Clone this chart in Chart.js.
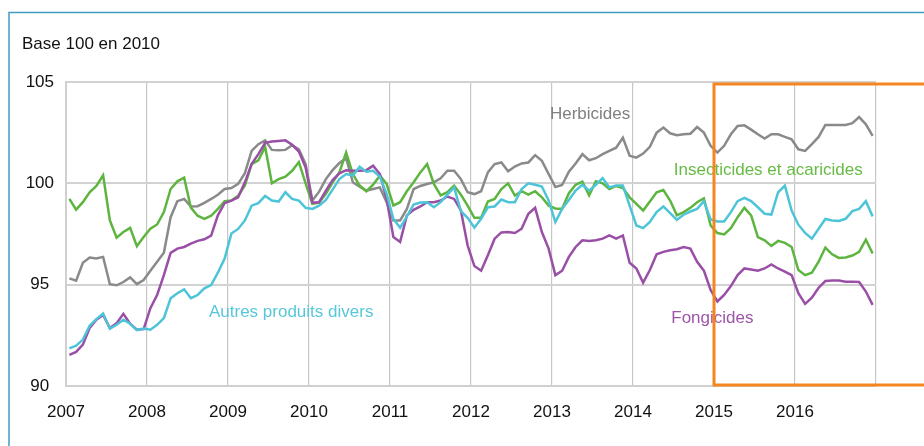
<!DOCTYPE html>
<html>
<head>
<meta charset="utf-8">
<script src="https://cdn.jsdelivr.net/npm/chart.js@4/dist/chart.umd.min.js"></script>
<style>
  html, body { margin: 0; padding: 0; background: #fff; }
  #wrap { position: relative; width: 924px; height: 446px; overflow: hidden; }
  canvas { display: block; }
</style>
</head>
<body>
<div id="wrap"><canvas id="c" width="924" height="446"></canvas></div>
<script>
// ---- Data (monthly, Jan 2007 - Dec 2016) ----
const startYear = 2007;
const years = [2007, 2008, 2009, 2010, 2011, 2012, 2013, 2014, 2015, 2016];
const yTicks = [90, 95, 100, 105];
const unitLabel = 'Base 100 en 2010';

const herbicides = [
  95.31, 95.2, 96.08, 96.34, 96.29, 96.37, 95.02, 94.97, 95.13, 95.36, 95.03, 95.23,
  95.69, 96.13, 96.57, 98.33, 99.12, 99.23, 98.86, 98.87, 99.04, 99.23, 99.44, 99.72,
  99.77, 99.97, 100.5, 101.6, 101.93, 102.12, 101.65, 101.63, 101.65, 101.88, 101.68, 100.95,
  99.15, 99.59, 100.21, 100.65, 101.0, 101.24, 100.05, 99.84, 99.64, 99.72, 99.8, 99.07,
  98.17, 98.17, 98.74, 99.72, 99.87, 99.97, 100.05, 100.25, 100.62, 100.62, 100.21, 99.56,
  99.47, 99.61, 100.54, 100.95, 101.03, 100.59, 100.83, 100.98, 101.03, 101.39, 101.11, 100.46,
  99.82, 99.92, 100.57, 100.98, 101.44, 101.14, 101.24, 101.44, 101.6, 101.76, 102.25, 101.36,
  101.27, 101.47, 101.8, 102.5, 102.75, 102.47, 102.37, 102.42, 102.45, 102.78, 102.5, 101.85,
  101.52, 101.85, 102.42, 102.83, 102.86, 102.65, 102.42, 102.21, 102.42, 102.42, 102.29, 102.17,
  101.68, 101.6, 101.93, 102.29, 102.88, 102.88, 102.88, 102.88, 102.97, 103.27, 102.91, 102.34
];
const insecticides = [
  99.23, 98.7, 99.07, 99.56, 99.87, 100.4, 98.17, 97.32, 97.6, 97.8, 96.9, 97.35,
  97.76, 97.97, 98.58, 99.72, 100.1, 100.28, 98.8, 98.4, 98.25, 98.4, 98.74, 99.12,
  99.15, 99.38, 99.9, 100.95, 101.14, 101.8, 100.0, 100.21, 100.33, 100.62, 101.05, 100.0,
  98.99, 99.05, 99.48, 100.05, 100.54, 101.52, 100.46, 99.89, 99.61, 99.93, 100.38, 99.97,
  98.91, 99.07, 99.61, 100.05, 100.54, 100.95, 99.97, 99.4, 99.56, 99.89, 99.44, 98.9,
  98.3, 98.3, 99.1, 99.23, 99.72, 100.0, 99.4, 99.61, 99.44, 99.61, 99.31, 98.9,
  98.76, 98.74, 99.51, 99.93, 100.08, 99.4, 100.1, 100.0, 99.72, 99.87, 99.77, 99.31,
  98.99, 98.66, 99.1, 99.56, 99.67, 99.15, 98.42, 98.58, 98.79, 99.07, 99.26, 97.92,
  97.55, 97.48, 97.79, 98.33, 98.79, 98.42, 97.35, 97.19, 96.91, 97.16, 97.06, 96.86,
  95.72, 95.47, 95.59, 96.13, 96.83, 96.5, 96.32, 96.34, 96.44, 96.62, 97.22, 96.54
];
const fongicides = [
  91.54, 91.68, 92.04, 92.86, 93.27, 93.51, 92.86, 93.1, 93.56, 93.07, 92.78, 92.81,
  93.84, 94.49, 95.47, 96.57, 96.78, 96.86, 97.03, 97.16, 97.24, 97.42, 98.42, 99.02,
  99.15, 99.31, 100.05, 100.95, 101.44, 102.0, 102.06, 102.09, 102.12, 101.9, 101.57, 100.78,
  99.05, 99.07, 99.64, 100.16, 100.49, 100.65, 100.62, 100.62, 100.65, 100.87, 100.46, 99.23,
  97.35, 97.11, 98.42, 98.69, 98.86, 99.07, 99.07, 99.15, 99.35, 99.23, 98.66, 96.94,
  95.92, 95.69, 96.45, 97.27, 97.58, 97.6, 97.55, 97.76, 98.5, 98.79, 97.6, 96.78,
  95.47, 95.69, 96.37, 96.86, 97.19, 97.16, 97.19, 97.27, 97.43, 97.27, 97.43, 96.08,
  95.8, 95.1, 95.72, 96.5, 96.62, 96.7, 96.75, 96.86, 96.78, 96.13, 95.69, 94.74,
  94.17, 94.49, 94.93, 95.47, 95.8, 95.75, 95.69, 95.8, 96.0, 95.8, 95.64, 95.47,
  94.58, 94.05, 94.36, 94.85, 95.18, 95.2, 95.2, 95.15, 95.15, 95.13, 94.66, 94.0
];
const autres = [
  91.86, 91.99, 92.29, 92.97, 93.3, 93.58, 92.83, 93.02, 93.27, 93.07, 92.76, 92.84,
  92.78, 93.02, 93.35, 94.33, 94.58, 94.77, 94.33, 94.49, 94.82, 94.98, 95.59, 96.29,
  97.52, 97.75, 98.17, 98.9, 99.02, 99.38, 99.15, 99.1, 99.56, 99.23, 99.15, 98.79,
  98.74, 98.9, 99.18, 99.69, 100.21, 100.46, 100.38, 100.82, 100.57, 100.62, 100.33, 99.48,
  98.25, 97.81, 98.37, 98.95, 99.05, 99.07, 98.82, 99.07, 99.44, 99.8, 98.63, 98.3,
  97.81, 98.25, 98.82, 98.86, 99.2, 99.07, 99.07, 99.72, 100.0, 99.93, 99.84, 99.15,
  98.09, 98.74, 99.18, 99.64, 99.93, 99.64, 99.93, 100.26, 99.8, 99.89, 99.89, 98.9,
  97.92, 97.79, 98.09, 98.58, 98.86, 98.53, 98.2, 98.45, 98.61, 98.74, 99.12, 98.22,
  98.12, 98.12, 98.58, 99.12, 99.28, 99.12, 98.82, 98.5, 98.46, 99.56, 99.89, 98.66,
  97.96, 97.55, 97.27, 97.76, 98.24, 98.17, 98.14, 98.25, 98.63, 98.74, 99.12, 98.37
];

// month -> decimal year (middle of the month)
const toPoints = (vals) => vals.map((v, i) => ({ x: startYear + (i + 0.5) / 12, y: v }));

// ---- Styles ----
const colors = {
  herb: '#8a8a8a',
  insect: '#5db53f',
  fong: '#9a4fa6',
  autres: '#4ec4d8',
  orange: '#f3861f',
  grid: '#d2d2d2',
  frame: '#3f9dc0'
};
const FONT = "'Liberation Sans', Arial, sans-serif";

const annotations = [
  { text: 'Herbicides', color: '#808080', x: 2013.47, y: 103.4 },
  { text: 'Insecticides et acaricides', color: '#66bb44', x: 2015.67, y: 100.64 },
  { text: 'Autres produits divers', color: '#58c7da', x: 2009.78, y: 93.64 },
  { text: 'Fongicides', color: '#9d56aa', x: 2014.98, y: 93.35 }
];

const overlay = {
  id: 'overlay',
  beforeDraw(chart) {
    const ctx = chart.ctx;
    ctx.save();
    ctx.fillStyle = '#fff';
    ctx.fillRect(0, 0, chart.width, chart.height);
    ctx.strokeStyle = colors.frame;
    ctx.lineWidth = 1.5;
    ctx.beginPath();
    ctx.moveTo(9, chart.height + 2);
    ctx.lineTo(9, 12.5);
    ctx.lineTo(chart.width + 2, 12.5);
    ctx.stroke();
    ctx.fillStyle = '#111';
    ctx.font = '17px ' + FONT;
    ctx.textAlign = 'left';
    ctx.textBaseline = 'middle';
    ctx.fillText(unitLabel, 22, 44);
    ctx.restore();
  },
  afterDatasetsDraw(chart) {
    const ctx = chart.ctx;
    const xs = chart.scales.x, ys = chart.scales.y;
    ctx.save();
    ctx.font = '17px ' + FONT;
    ctx.textAlign = 'center';
    ctx.textBaseline = 'middle';
    annotations.forEach(a => {
      ctx.fillStyle = a.color;
      ctx.fillText(a.text, xs.getPixelForValue(a.x), ys.getPixelForValue(a.y));
    });
    // highlighted period rectangle (2015 onward)
    const left = xs.getPixelForValue(2015);
    const top = ys.getPixelForValue(105) + 2;
    const bottom = ys.getPixelForValue(90) - 1;
    ctx.strokeStyle = colors.orange;
    ctx.lineWidth = 3;
    ctx.strokeRect(left, top, chart.width + 20 - left, bottom - top);
    ctx.restore();
  }
};

const mkDs = (label, vals, color) => ({
  label, data: toPoints(vals), borderColor: color, backgroundColor: color,
  borderWidth: 2.5, pointRadius: 0, tension: 0, fill: false
});

new Chart(document.getElementById('c'), {
  type: 'line',
  data: {
    datasets: [
      mkDs('Autres produits divers', autres, colors.autres),
      mkDs('Fongicides', fongicides, colors.fong),
      mkDs('Insecticides et acaricides', insecticides, colors.insect),
      mkDs('Herbicides', herbicides, colors.herb)
    ]
  },
  options: {
    responsive: false,
    devicePixelRatio: 1,
    animation: false,
    events: [],
    layout: { padding: { left: 12, top: 82, right: 48, bottom: 0 } },
    plugins: { legend: { display: false }, tooltip: { enabled: false } },
    scales: {
      x: {
        type: 'linear',
        min: years[0],
        max: years[years.length - 1] + 1,
        afterFit: (s) => { s.height = 60; },
        afterBuildTicks: (s) => { s.ticks = years.concat([years[years.length - 1] + 1]).map(v => ({ value: v })); },
        grid: { color: '#c6c6c6', lineWidth: 1.2, drawTicks: false },
        border: { color: '#d0d0d0', width: 2 },
        ticks: {
          padding: 16,
          color: '#111',
          font: { family: FONT, size: 17 },
          maxRotation: 0,
          autoSkip: false,
          callback: (v) => years.includes(v) ? String(v) : ''
        }
      },
      y: {
        min: yTicks[0],
        max: yTicks[yTicks.length - 1],
        afterFit: (s) => { s.width = 54; },
        afterBuildTicks: (s) => { s.ticks = yTicks.map(v => ({ value: v })); },
        grid: { color: colors.grid, lineWidth: 2, drawTicks: false },
        border: { color: '#d0d0d0', width: 2 },
        ticks: {
          padding: 12,
          crossAlign: 'center',
          color: '#111',
          font: { family: FONT, size: 17 },
          callback: (v) => String(v)
        }
      }
    }
  },
  plugins: [overlay]
});
</script>
</body>
</html>
